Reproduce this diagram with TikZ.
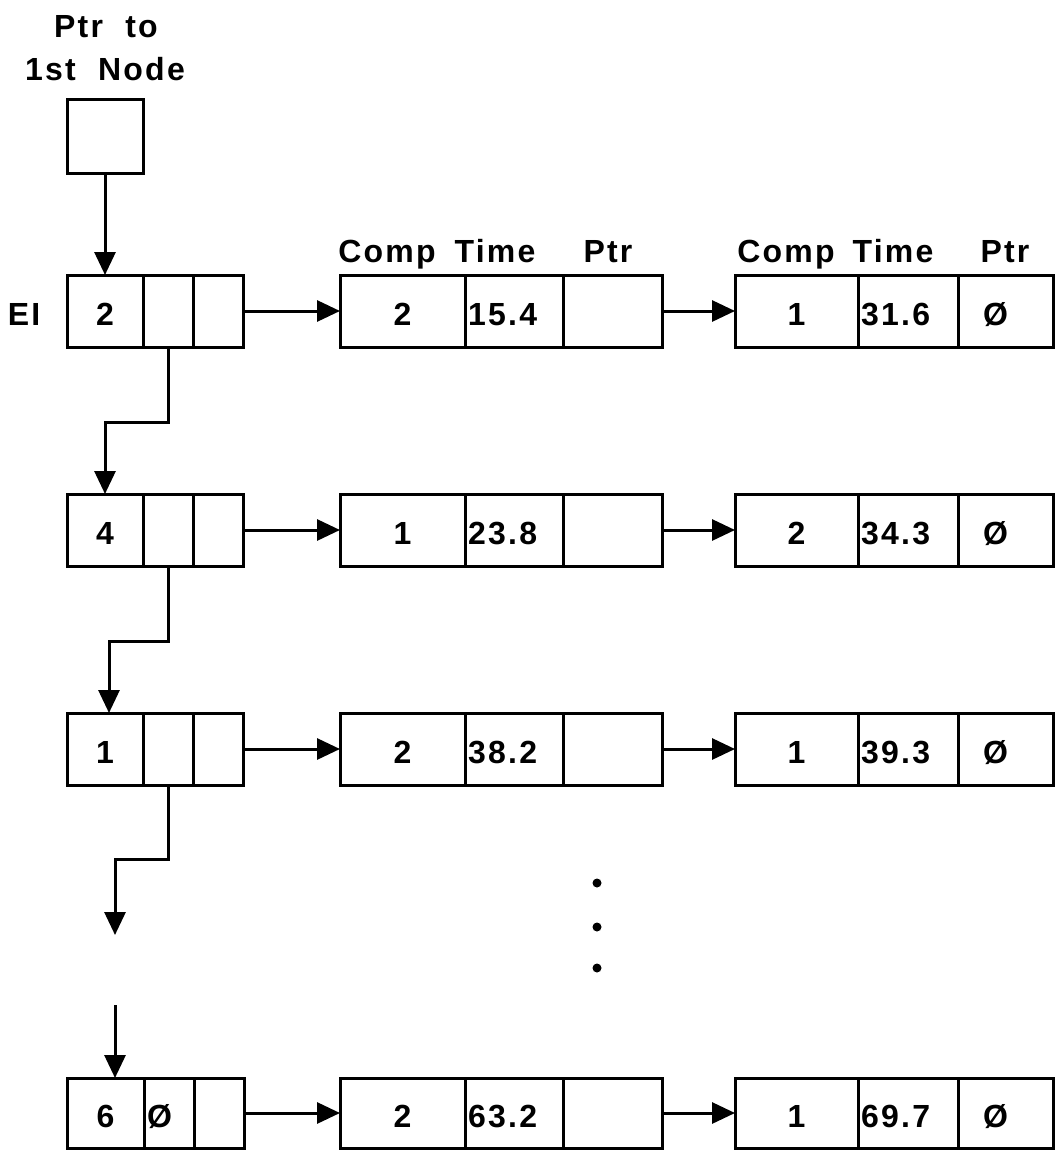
\documentclass[tikz,border=0pt]{standalone}
\usepackage{fontspec}
\setmainfont{Liberation Sans}[LetterSpace=7]
\usetikzlibrary{arrows.meta}
\tikzset{
  cell/.style={draw, line width=3pt, minimum height=72pt, inner sep=0pt, outer sep=0pt, anchor=north west},
  txt/.style={inner sep=0pt, anchor=base, font=\fontsize{32}{36}\selectfont\bfseries},
  conn/.style={line width=3pt, -{Triangle[length=23pt,width=21pt]}},
}
\newcommand\blo{50pt}
% record: prefix, x, y, w1, w2, w3, text1, text2, text3
\newcommand\myrec[9]{%
  \node[cell, minimum width=#4pt] (#1a) at (#2,#3) {};
  \node[cell, minimum width=#5pt] (#1b) at (#1a.north east) {};
  \node[cell, minimum width=#6pt] (#1c) at (#1b.north east) {};
  \node[txt] (#1ta) at ([yshift=-\blo]#1a.north) {#7};
  \node[txt, anchor=base west] (#1tb) at ([xshift=3pt,yshift=-\blo]#1b.north west) {#8};
  \node[txt] (#1tc) at ([xshift=-10pt,yshift=-\blo]#1c.north) {#9};
}
\begin{document}
\begin{tikzpicture}[x=1pt,y=-1pt]
\useasboundingbox (0,0) rectangle (1055,1150);

% title
\node[txt] (ttl1) at (106,38) {Ptr\ \ to};
\node[txt] (ttl2) at (105,81) {1st\ \ Node};
\node[cell, minimum width=76pt, minimum height=74pt] (p0) at (67,100) {};

\node[txt] (ei) at (24,325) {EI};

% headers
\node[txt] (h1) at (387,262) {Comp};
\node[txt] (h2) at (495,262) {Time};
\node[txt] (h3) at (608,262) {Ptr};
\node[txt] (h4) at (786,262) {Comp};
\node[txt] (h5) at (893,262) {Time};
\node[txt] (h6) at (1005,262) {Ptr};

% row 1
\myrec{ra}{67}{275}{76}{50}{50}{2}{}{}
\myrec{ma}{340}{275}{125}{98}{99}{2}{15.4}{}
\myrec{na}{735}{275}{123}{100}{95}{1}{31.6}{Ø}
% row 2
\myrec{rb}{67}{494}{76}{50}{50}{4}{}{}
\myrec{mb}{340}{494}{125}{98}{99}{1}{23.8}{}
\myrec{nb}{735}{494}{123}{100}{95}{2}{34.3}{Ø}
% row 3
\myrec{rc}{67}{713}{76}{50}{50}{1}{}{}
\myrec{mc}{340}{713}{125}{98}{99}{2}{38.2}{}
\myrec{nc}{735}{713}{123}{100}{95}{1}{39.3}{Ø}
% row 4
\tikzset{cell/.append style={minimum height=70pt}}
\renewcommand\blo{49pt}
\myrec{rd}{67}{1078}{77}{50}{50}{6}{Ø}{}
\myrec{md}{340}{1078}{125}{98}{99}{2}{63.2}{}
\myrec{nd}{735}{1078}{123}{100}{95}{1}{69.7}{Ø}

% pointer to first node
\draw[conn] (p0.south) -- (p0.south |- raa.north);

% horizontal links
\foreach \k in {a,b,c,d}{
  \draw[conn] (r\k c.east) -- (m\k a.west);
  \draw[conn] (m\k c.east) -- (n\k a.west);
}

% vertical links
\draw[conn] (rab.south) -- ++(0,75) -| (rba.north);
\draw[conn] (rbb.south) -- ++(0,75) -| ([xshift=4pt]rca.north);
\coordinate (g1) at (115,935);
\coordinate (g2) at (115,1005);
\draw[conn] (rcb.south) -- ++(0,74) -| (g1);
\draw[conn] (g2) -- (g2 |- rda.north);

% continuation dots
\fill (597,883) circle (4.5);
\fill (597,927) circle (4.5);
\fill (597,968) circle (4.5);
\end{tikzpicture}
\end{document}
